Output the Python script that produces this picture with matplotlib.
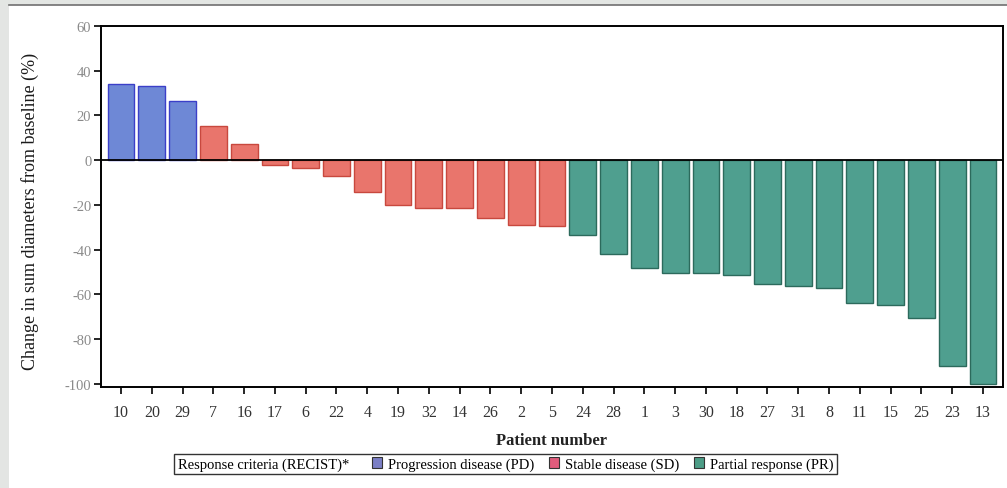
import numpy as np
import matplotlib
matplotlib.use("Agg")
from matplotlib import pyplot as plt
from matplotlib.patches import Rectangle
from matplotlib.lines import Line2D
from matplotlib.offsetbox import HPacker

# data
patients = ["10", "20", "29", "7", "16", "17", "6", "22", "4", "19", "32", "14", "26", "2", "5",
            "24", "28", "1", "3", "30", "18", "27", "31", "8", "11", "15", "25", "23", "13"]
changes = [34.2, 33.2, 26.4, 15.4, 7.1, -2.1, -3.6, -7.3, -14.2, -20.1, -21.6, -21.6, -26.1, -29.0, -29.6,
           -33.6, -41.9, -48.3, -50.3, -50.3, -51.4, -55.4, -56.3, -57.0, -63.8, -64.9, -70.7, -92.2, -100.0]
response = ["PD"] * 3 + ["SD"] * 12 + ["PR"] * 14

categories = ["PD", "SD", "PR"]
cat_labels = ["Progression disease (PD)", "Stable disease (SD)", "Partial response (PR)"]
fill_colors = {"PD": "#6e88d6", "SD": "#e9756c", "PR": "#4f9f8f"}
edge_colors = {"PD": "#3b3fc8", "SD": "#c8483e", "PR": "#2c6a5c"}
legend_colors = {"PD": "#7b7fc6", "SD": "#e05c7c", "PR": "#4c9c86"}

plt.rcParams['font.family'] = ['Liberation Serif', 'DejaVu Serif']
plt.rcParams['axes.unicode_minus'] = False

fig = plt.figure(figsize=(10.07, 4.89), dpi=100, facecolor="white")

# grey page strips around the white panel
fig.patches.append(Rectangle((0, 0), 9 / 1007, 1, transform=fig.transFigure,
                             facecolor="#e3e5e3", edgecolor="none", zorder=0))
fig.patches.append(Rectangle((0, 1 - 6 / 489), 1, 6 / 489, transform=fig.transFigure,
                             facecolor="#e3e6e3", edgecolor="none", zorder=0))
fig.lines.append(Line2D([9 / 1007, 1], [1 - 6 / 489, 1 - 6 / 489], transform=fig.transFigure,
                        color="#707070", lw=1.2))

ax = fig.add_axes([0.1003, 0.2065, 0.8957, 0.7383])

x = np.arange(len(patients))
ax.bar(x, changes, width=0.87,
       color=[fill_colors[r] for r in response],
       edgecolor=[edge_colors[r] for r in response], linewidth=1.0, zorder=2)
ax.axhline(0, color="black", lw=1.3, zorder=3)

ax.set_xlim(-0.65, len(patients) - 1 + 0.65)
ax.set_ylim(-101.5, 60)
ax.set_yticks([60, 40, 20, 0, -20, -40, -60, -80, -100])
ax.set_xticks(x)
ax.set_xticklabels(patients)

for s in ax.spines.values():
    s.set_linewidth(1.4)
    s.set_color("black")
ax.tick_params(axis="y", direction="out", length=5, width=1.2, labelsize=10.5,
               labelcolor="#8a8a8a", pad=2)
ax.tick_params(axis="x", direction="out", length=5, width=1.2, labelsize=11.5,
               labelcolor="#333333", pad=7)

ax.set_xlabel("Patient number", fontsize=12, fontweight="bold", labelpad=9, color="#222222")
ax.set_ylabel("Change in sum diameters from baseline (%)", fontsize=13, color="#1a1a1a")
ax.yaxis.set_label_coords(-0.069, 0.49)

# legend, title sits inline to the left of the entries
handles = []
for c in categories:
    handles.append(Rectangle((0, 0), 1, 1, facecolor=legend_colors[c], edgecolor="#333333", lw=0.8))
leg = fig.legend(handles, cat_labels, loc="center", bbox_to_anchor=(0.502, 0.049), ncol=3,
                 fontsize=10.5, frameon=True, fancybox=False, edgecolor="black",
                 handlelength=0.7, handleheight=0.7, handletextpad=0.4, columnspacing=1.0,
                 borderpad=0.25, borderaxespad=0,
                 title="Response criteria (RECIST)*", title_fontsize=10.5)
leg.get_frame().set_linewidth(1.0)
try:
    old = leg._legend_box
    box = HPacker(pad=old.pad, sep=1.6 * 10.5, align="center",
                  children=[leg._legend_title_box, leg._legend_handle_box])
    box.set_figure(fig)
    box.axes = leg.axes
    box.set_offset(leg._findoffset)
    leg._legend_box = box
except Exception:
    pass

fig.savefig("out.png", dpi=100, facecolor="white")
